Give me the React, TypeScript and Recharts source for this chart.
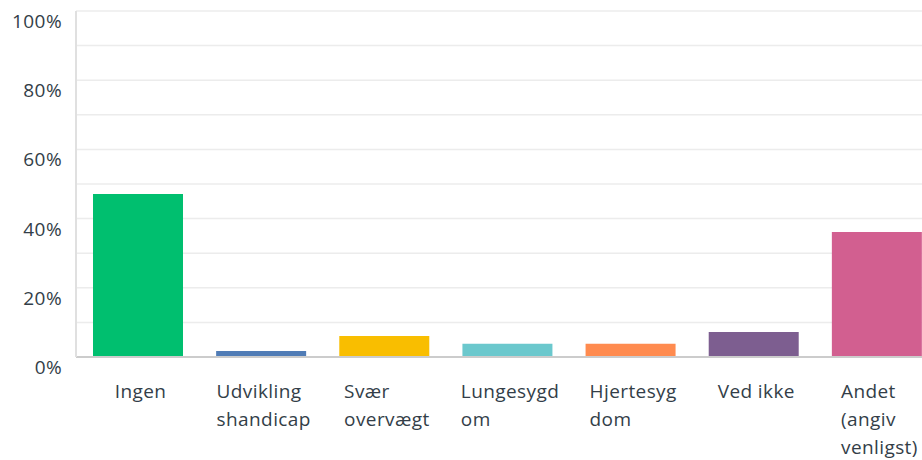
import { BarChart, Bar, XAxis, YAxis, CartesianGrid, Cell } from 'recharts';

const categories = [
  'Ingen',
  'Udviklingshandicap',
  'Svær overvægt',
  'Lungesygdom',
  'Hjertesygdom',
  'Ved ikke',
  'Andet (angiv venligst)',
];

// wrapped tick text as shown under each bar
const tickLines = [
  ['Ingen'],
  ['Udvikling', 'shandicap'],
  ['Svær', 'overvægt'],
  ['Lungesygd', 'om'],
  ['Hjertesyg', 'dom'],
  ['Ved ikke'],
  ['Andet', '(angiv', 'venligst)'],
];

const percentages = [47.1, 1.7, 6.1, 3.8, 3.8, 7.2, 36.1];

const barColors = ['#00bf6f', '#507cb6', '#f9be00', '#6bc8cd', '#ff8b4f', '#7d5e90', '#d25f90'];

const yTicks = [0, 10, 20, 30, 40, 50, 60, 70, 80, 90, 100];

const data = categories.map((name, i) => ({ name, value: percentages[i] }));

const FONT = '"Open Sans", sans-serif';
const TEXT = '#333e48';
const SIZE = 19;
const SPACING = 0.4;

let ctx: CanvasRenderingContext2D | null = null;
function textWidth(s: string) {
  if (!ctx) ctx = document.createElement('canvas').getContext('2d');
  if (!ctx) return s.length * 10;
  ctx.font = `${SIZE}px "Open Sans"`;
  return ctx.measureText(s).width + SPACING * s.length;
}

const XTick = ({ x, y, index }: any) => {
  const lines = tickLines[index] || [];
  const w = Math.max(...lines.map(textWidth));
  const left = x - w / 2 + 3;
  return (
    <text
      x={left}
      y={y + 41}
      fill={TEXT}
      textAnchor="start"
      style={{ fontSize: SIZE, fontFamily: FONT, letterSpacing: SPACING }}
    >
      {lines.map((l: string, i: number) => (
        <tspan key={i} x={left} dy={i === 0 ? 0 : 28}>
          {l}
        </tspan>
      ))}
    </text>
  );
};

const YTick = ({ x, y, payload }: any) => {
  if (payload.value % 20 !== 0) return null;
  return (
    <text
      x={x - 14}
      y={y + 17}
      fill={TEXT}
      textAnchor="end"
      style={{ fontSize: SIZE, fontFamily: FONT, letterSpacing: SPACING }}
    >
      {`${payload.value}%`}
    </text>
  );
};

export default function App() {
  return (
    <div
      style={{
        position: 'fixed',
        left: 0,
        top: 0,
        width: 922,
        height: 460,
        overflow: 'hidden',
        background: '#fff',
      }}
    >
      <BarChart width={938} height={460} data={data} margin={{ top: 11, right: 0, bottom: 0, left: 0 }}>
        <CartesianGrid vertical={false} stroke="#ececec" strokeWidth={1.5} />
        <XAxis
          dataKey="name"
          interval={0}
          height={103}
          tickLine={false}
          tickSize={0}
          tickMargin={0}
          axisLine={{ stroke: '#cccccc', strokeWidth: 2 }}
          tick={<XTick />}
        />
        <YAxis
          width={76}
          domain={[0, 100]}
          ticks={yTicks}
          interval={0}
          tickLine={false}
          tickSize={0}
          tickMargin={0}
          axisLine={{ stroke: '#e0e0e0', strokeWidth: 2 }}
          tick={<YTick />}
        />
        <Bar dataKey="value" barSize={90} isAnimationActive={false}>
          {data.map((_, i) => (
            <Cell key={`cell-${i}`} fill={barColors[i]} />
          ))}
        </Bar>
      </BarChart>
    </div>
  );
}
